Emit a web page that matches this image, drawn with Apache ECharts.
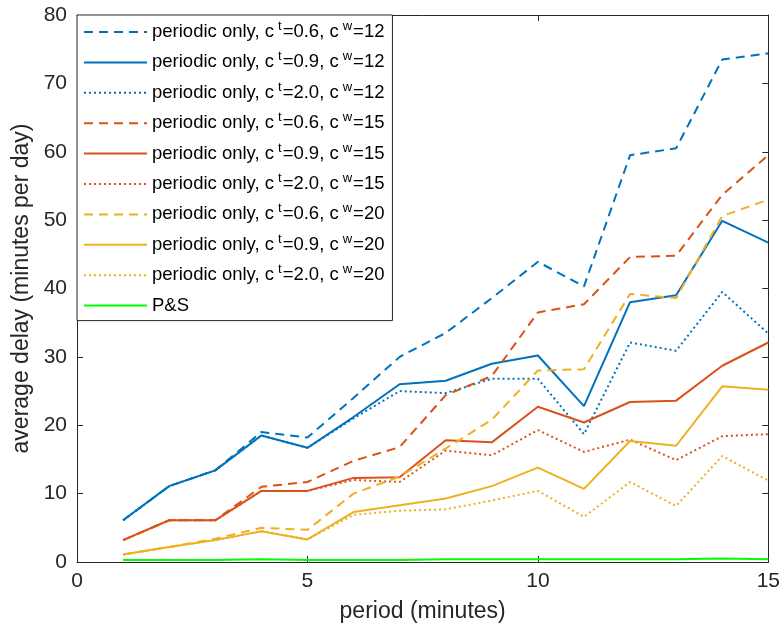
<!DOCTYPE html>
<html>
<head>
<meta charset="utf-8">
<script src="https://cdn.jsdelivr.net/npm/echarts@6/dist/echarts.min.js"></script>
<style>html,body{margin:0;padding:0;background:#fff;}#c{width:783px;height:635px;}</style>
</head>
<body>
<div id="c"></div>
<script>
const periods = [1,2,3,4,5,6,7,8,9,10,11,12,13,14,15];
const blueDash   = [6.1,11.1,13.4,19.0,18.2,24.0,30.0,33.5,38.6,43.9,40.3,59.5,60.5,73.5,74.4];
const blueSolid  = [6.1,11.1,13.4,18.5,16.7,21.2,26.0,26.5,29.0,30.2,22.8,38.0,39.0,49.9,46.7];
const blueDot    = [6.1,11.1,13.4,18.5,16.7,21.0,25.0,24.7,26.8,26.8,18.7,32.1,30.9,39.5,33.4];
const orangeDash = [3.2,6.1,6.1,11.0,11.7,14.8,16.8,24.4,27.2,36.5,37.7,44.6,44.8,53.7,59.5];
const orangeSolid= [3.2,6.1,6.1,10.4,10.4,12.3,12.4,17.8,17.5,22.7,20.4,23.4,23.6,28.7,32.1];
const orangeDot  = [3.2,6.1,6.1,10.4,10.4,12.0,11.7,16.3,15.6,19.3,16.1,17.9,14.9,18.4,18.7];
const yellowDash = [1.1,2.2,3.4,5.0,4.7,10.0,12.5,16.6,20.8,28.0,28.2,39.2,38.6,50.6,53.0];
const yellowSolid= [1.1,2.2,3.2,4.5,3.3,7.3,8.3,9.3,11.1,13.8,10.7,17.7,17.0,25.7,25.2];
const yellowDot  = [1.1,2.2,3.2,4.5,3.3,6.9,7.5,7.7,9.0,10.4,6.6,11.7,8.2,15.5,11.9];
const psData     = [0.3,0.3,0.3,0.4,0.3,0.3,0.3,0.4,0.4,0.4,0.4,0.4,0.4,0.5,0.4];

const seriesDefs = [
  {name:'periodic only, c^t=0.6, c^w=12', data:blueDash, color:'#0072BD', type:'dashed'},
  {name:'periodic only, c^t=0.9, c^w=12', data:blueSolid, color:'#0072BD', type:'solid'},
  {name:'periodic only, c^t=2.0, c^w=12', data:blueDot, color:'#0072BD', type:'dotted'},
  {name:'periodic only, c^t=0.6, c^w=15', data:orangeDash, color:'#D95319', type:'dashed'},
  {name:'periodic only, c^t=0.9, c^w=15', data:orangeSolid, color:'#D95319', type:'solid'},
  {name:'periodic only, c^t=2.0, c^w=15', data:orangeDot, color:'#D95319', type:'dotted'},
  {name:'periodic only, c^t=0.6, c^w=20', data:yellowDash, color:'#EDB120', type:'dashed'},
  {name:'periodic only, c^t=0.9, c^w=20', data:yellowSolid, color:'#EDB120', type:'solid'},
  {name:'periodic only, c^t=2.0, c^w=20', data:yellowDot, color:'#EDB120', type:'dotted'},
  {name:'P&S', data:psData, color:'#00FF00', type:'solid'}
];
const dashMap = {solid:'solid', dashed:[9,6], dotted:[2,3]};

const axisColor = '#262626';
const fontFam = '"Liberation Sans", Arial, Helvetica, sans-serif';

function legendFmt(name){
  return name.replace(/\^([a-z])/g, '{sup|$1}');
}

const chart = echarts.init(document.getElementById('c'));
chart.setOption({
  animation:false,
  backgroundColor:'#fff',
  textStyle:{fontFamily:fontFam},
  grid:{left:77, right:13, top:15, bottom:73},
  legend:{
    orient:'vertical', left:77, top:15,
    itemWidth:63, itemHeight:14, itemGap:6.4,
    padding:[5,8,3,6],
    borderColor:axisColor, borderWidth:1, backgroundColor:'#fff',
    itemStyle:{opacity:0},
    lineStyle:{width:2},
    formatter: legendFmt,
    textStyle:{fontSize:18.5, color:'#000', fontFamily:fontFam, lineHeight:24,
      rich:{sup:{fontSize:13, verticalAlign:'top', lineHeight:11, padding:[0,1,0,4], fontFamily:fontFam, color:'#000'}}},
    data: seriesDefs.map(s=>s.name)
  },
  xAxis:[
    {type:'value', min:0, max:15, interval:5, position:'bottom',
     name:'period (minutes)', nameLocation:'middle', nameGap:38,
     nameTextStyle:{fontSize:23, color:axisColor},
     axisLine:{show:true, lineStyle:{color:axisColor}},
     axisTick:{show:true, inside:true, length:6, lineStyle:{color:axisColor}},
     axisLabel:{fontSize:21, color:axisColor, margin:9},
     splitLine:{show:false}},
    {type:'value', min:0, max:15, interval:5, position:'top',
     axisLine:{show:true, onZero:false, lineStyle:{color:axisColor}},
     axisTick:{show:true, inside:true, length:6, lineStyle:{color:axisColor}},
     axisLabel:{show:false}, splitLine:{show:false}}
  ],
  yAxis:[
    {type:'value', min:0, max:80, interval:10, position:'left',
     name:'average delay (minutes per day)', nameLocation:'middle', nameGap:43,
     nameTextStyle:{fontSize:23, color:axisColor},
     axisLine:{show:true, lineStyle:{color:axisColor}},
     axisTick:{show:true, inside:true, length:6, lineStyle:{color:axisColor}},
     axisLabel:{fontSize:21, color:axisColor, margin:10},
     splitLine:{show:false}},
    {type:'value', min:0, max:80, interval:10, position:'right',
     axisLine:{show:true, onZero:false, lineStyle:{color:axisColor}},
     axisTick:{show:true, inside:true, length:6, lineStyle:{color:axisColor}},
     axisLabel:{show:false}, splitLine:{show:false}}
  ],
  series: seriesDefs.map(s=>({
    name:s.name, type:'line', xAxisIndex:0, yAxisIndex:0,
    data: periods.map((p,i)=>[p, s.data[i]]),
    showSymbol:false, symbol:'none',
    color:s.color,
    lineStyle:{color:s.color, width:2, type:dashMap[s.type]},
    emphasis:{disabled:true}
  }))
});
</script>
</body>
</html>
